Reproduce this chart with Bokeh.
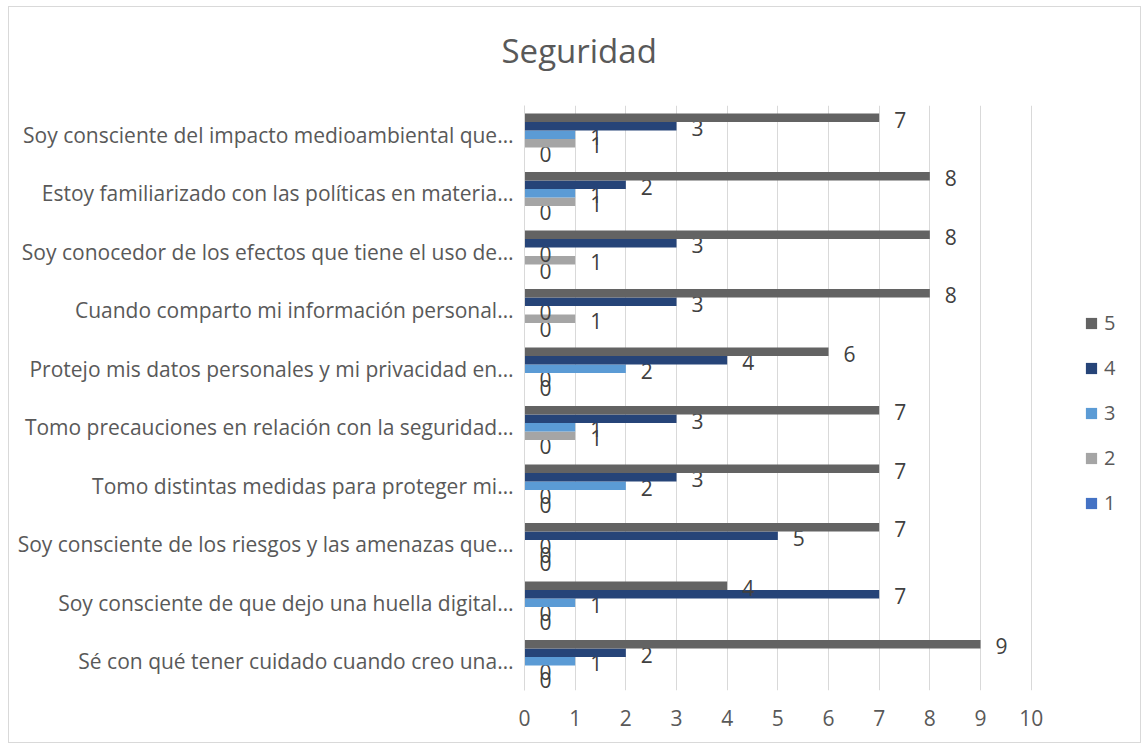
from bokeh.plotting import figure
from bokeh.models import FactorRange, Legend, LegendItem, FixedTicker, ColumnDataSource
from bokeh.transform import dodge
from bokeh.core.properties import value
from bokeh.embed import file_html
from bokeh.resources import INLINE

categories = [
    "Soy consciente del impacto medioambiental que…",
    "Estoy familiarizado con las políticas en materia…",
    "Soy conocedor de los efectos que tiene el uso de…",
    "Cuando comparto mi información personal…",
    "Protejo mis datos personales y mi privacidad en…",
    "Tomo precauciones en relación con la seguridad…",
    "Tomo distintas medidas para proteger mi…",
    "Soy consciente de los riesgos y las amenazas que…",
    "Soy consciente de que dejo una huella digital…",
    "Sé con qué tener cuidado cuando creo una…",
]
series_names = ["1", "2", "3", "4", "5"]
s1 = [0, 0, 0, 0, 0, 0, 0, 0, 0, 0]
s2 = [1, 1, 1, 1, 0, 1, 0, 0, 0, 0]
s3 = [1, 1, 0, 0, 2, 1, 2, 0, 1, 1]
s4 = [3, 2, 3, 3, 4, 3, 3, 5, 7, 2]
s5 = [7, 8, 8, 8, 6, 7, 7, 7, 4, 9]
x_ticks = [0, 1, 2, 3, 4, 5, 6, 7, 8, 9, 10]

series = [s1, s2, s3, s4, s5]
colors = ["#4472C4", "#A5A5A5", "#5B9BD5", "#264478", "#636363"]
FONT = "Open Sans"
TXT = "#595959"

p = figure(width=1133, height=737, output_backend="svg", toolbar_location=None,
           y_range=FactorRange(factors=list(reversed(categories))),
           x_range=(0, 12))
p.min_border_left = 515
p.min_border_right = 10
p.min_border_top = 98
p.min_border_bottom = 54
p.outline_line_color = None
p.styles = {"border": "1px solid #d9d9d9", "margin-left": "8px", "margin-top": "6px"}

bh = 0.146
renderers = []
for i, (name, vals, col) in enumerate(zip(series_names, series, colors)):
    off = (i - 2) * bh
    src = ColumnDataSource(dict(cat=categories, v=vals, lab=[str(x) for x in vals]))
    r = p.hbar(y=dodge("cat", off, range=p.y_range), right="v", left=0, height=bh,
               source=src, fill_color=col, line_color=None)
    renderers.append(r)
    p.text(x="v", y=dodge("cat", off, range=p.y_range), text="lab", source=src,
           x_offset=15, y_offset=2, text_align="left", text_baseline="middle",
           text_font=value(FONT), text_font_size="21px", text_color="#404040")

p.xgrid.grid_line_color = "#d9d9d9"
p.xgrid.grid_line_width = 1
p.ygrid.grid_line_color = None

p.xaxis.ticker = FixedTicker(ticks=x_ticks)
p.xaxis.axis_line_color = None
p.xaxis.major_tick_line_color = None
p.xaxis.minor_tick_line_color = None
p.xaxis.major_label_text_font = FONT
p.xaxis.major_label_text_font_size = "21px"
p.xaxis.major_label_text_color = TXT
p.xaxis.major_label_standoff = 13

p.yaxis.axis_line_color = "#d9d9d9"
p.yaxis.axis_line_width = 1
p.yaxis.major_tick_line_color = None
p.yaxis.minor_tick_line_color = None
p.yaxis.major_label_text_font = FONT
p.yaxis.major_label_text_font_size = "21px"
p.yaxis.major_label_text_color = TXT
p.yaxis.major_label_standoff = 5

p.title.text = "Seguridad"
p.title.align = "left"
p.title.offset = -23
p.title.text_font = FONT
p.title.text_font_size = "33px"
p.title.text_font_style = "normal"
p.title.text_color = TXT
p.title.standoff = 26
p.title.padding = (0, 0, 0, 20)

items = [LegendItem(label=series_names[i], renderers=[renderers[i]]) for i in [4, 3, 2, 1, 0]]
legend = Legend(items=items, location=(560, 174), orientation="vertical",
                glyph_width=14, glyph_height=14, label_height=20, spacing=18,
                label_standoff=6, padding=0, margin=0,
                label_text_font=FONT, label_text_font_size="20px",
                label_text_color=TXT, border_line_color=None,
                background_fill_alpha=0)
p.add_layout(legend, "center")

open("out.html", "w").write(file_html(p, INLINE))
